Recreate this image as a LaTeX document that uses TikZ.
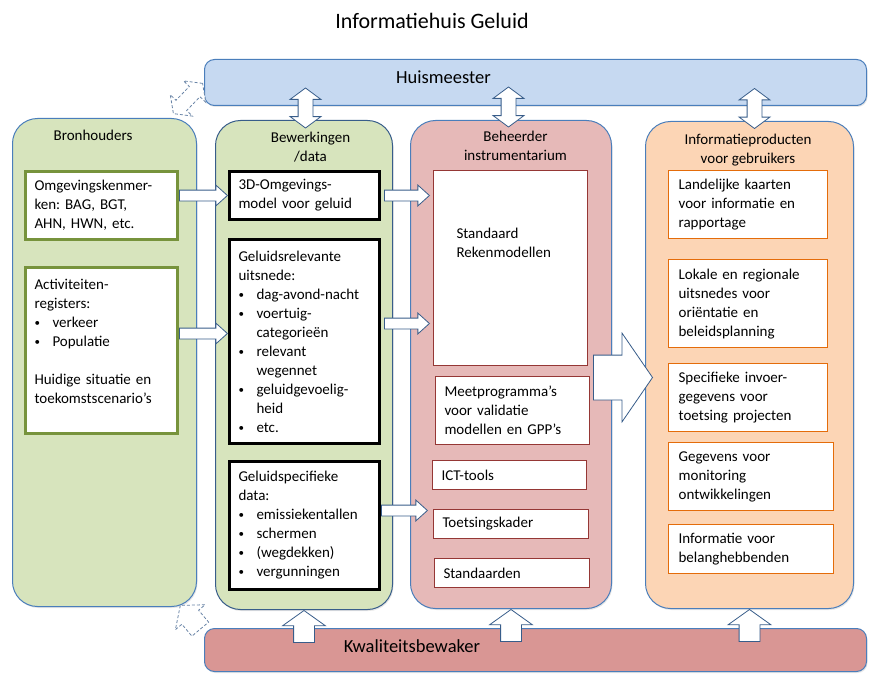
\documentclass[tikz,border=0pt]{standalone}
\usepackage{fontspec}
\setmainfont{Carlito}
\usetikzlibrary{positioning,shapes.arrows,shadows}
\frenchspacing

\definecolor{groen}{HTML}{D7E4BD}
\definecolor{rose}{HTML}{E6B9B8}
\definecolor{perzik}{HTML}{FCD5B5}
\definecolor{lichtblauw}{HTML}{C6D9F1}
\definecolor{oudrood}{HTML}{D99694}
\definecolor{rand}{HTML}{4A7EBB}
\definecolor{donkerrand}{HTML}{385D8A}
\definecolor{olijf}{HTML}{77933C}
\definecolor{steen}{HTML}{953735}
\definecolor{oranje}{HTML}{E46C0A}

\newcommand{\bul}{\makebox[18pt][l]{\raisebox{1pt}{\fontsize{11}{11}\selectfont\textbullet}}}

\tikzset{
  txt/.style={font=\fontsize{15}{19}\selectfont},
  schaduw/.style={drop shadow={opacity=.2, shadow xshift=1pt, shadow yshift=-1.5pt}},
  kolom/.style={draw=rand, line width=1pt, rounded corners=25pt, anchor=north west, schaduw},
  balk/.style={draw=rand, line width=1pt, rounded corners=10pt, anchor=north west,
    minimum width=662pt, schaduw},
  balktekst/.style={font=\fontsize{18.5}{22}\selectfont, inner sep=0pt},
  kop/.style={txt, inner sep=0pt, align=center},
  vak/.style={txt, anchor=north west, align=left, inner xsep=9pt, inner ysep=3pt, fill=white},
  groenvak/.style={vak, draw=olijf, line width=3pt},
  zwartvak/.style={vak, draw=black, line width=3pt},
  roodvak/.style={vak, draw=steen, line width=1pt},
  oranjevak/.style={vak, inner xsep=10pt, draw=oranje, line width=1.2pt},
  pijl/.style={single arrow, draw=donkerrand, fill=white, line width=.8pt,
    inner xsep=0pt, minimum width=0pt},
  klein/.style={pijl, inner ysep=5pt, single arrow head extend=5pt, single arrow tip angle=84},
  op/.style={pijl, rotate=90, inner ysep=10pt, single arrow head extend=11pt,
    single arrow tip angle=109, minimum height=32pt},
  grootpijl/.style={pijl, inner ysep=22pt, single arrow head extend=22pt,
    single arrow tip angle=111, minimum height=59pt},
  heen/.style={double arrow, draw=donkerrand, fill=white, line width=.8pt,
    inner xsep=0pt, minimum width=0pt, inner ysep=7pt, double arrow head extend=8pt,
    double arrow tip angle=107, minimum height=40pt},
  stippel/.style={draw=donkerrand!75, dash pattern=on 3pt off 2pt},
}

\begin{document}
\begin{tikzpicture}[x=1pt, y=-1pt]
\useasboundingbox (0,0) rectangle (882,679);

\node[font=\fontsize{22}{26}\selectfont] (titel) at (432,21) {Informatiehuis Geluid};

% kolommen
\node[kolom, fill=groen, minimum width=184pt, minimum height=488pt] (bron) at (12,118) {};
\node[kolom, fill=groen, draw=donkerrand, minimum width=177pt, minimum height=489pt] (bew) at (215,120) {};
\node[kolom, fill=rose, minimum width=201pt, minimum height=488pt] (beh) at (410,120) {};
\node[kolom, fill=perzik, minimum width=208pt, minimum height=487pt] (info) at (645,121) {};

\node[kop, below=12pt of bron.north, xshift=-11.5pt] (bronT) {Bronhouders};
\node[kop, below=11.5pt of bew.north, xshift=6.5pt] (bewT) {Bewerkingen\\/data};
\node[kop, below=10.5pt of beh.north, xshift=4.5pt] (behT) {Beheerder\\instrumentarium};
\node[kop, below=12.5pt of info.north, xshift=-1.5pt] (infoT) {Informatieproducten\\voor gebruikers};

% balken
\node[balk, fill=lichtblauw, minimum height=46pt] (huis) at (204,59) {};
\node[balk, fill=oudrood, minimum height=43pt] (kwal) at (204,628) {};
\node[balktekst] (huisT) at ([xshift=-92pt, yshift=5pt]huis.center) {Huismeester};
\node[balktekst] (kwalT) at ([xshift=-123.5pt, yshift=4pt]kwal.center) {Kwaliteitsbewaker};

% bronhouders
\node[groenvak, text width=134pt, minimum height=68pt] (omg) at (24,170)
  {Omgevingskenmer-\\ken: BAG, BGT,\\AHN, HWN, etc.};
\node[groenvak, text width=134pt, minimum height=166pt] (act) at (24,266)
  {Activiteiten-\\registers:\\\bul verkeer\\\bul Populatie\\[19pt]Huidige situatie en\\toekomstscenario’s\\~};

% bewerkingen
\node[zwartvak, text width=132pt, minimum height=48pt] (model) at (228,170)
  {3D-Omgevings-\\model voor geluid};
\node[zwartvak, text width=132pt, minimum height=204pt] (rel) at (228,238)
  {Geluidsrelevante\\uitsnede:\\\bul dag-avond-nacht\\\bul voertuig-\\\hspace*{18pt}categorieën\\
   \bul relevant\\\hspace*{18pt}wegennet\\\bul geluidgevoelig-\\\hspace*{18pt}heid\\\bul etc.};
\node[zwartvak, text width=132pt, minimum height=128pt] (spec) at (228,460)
  {Geluidspecifieke\\data:\\\bul emissiekentallen\\\bul schermen\\\bul (wegdekken)\\\bul vergunningen};

% instrumentarium
\node[roodvak, inner xsep=23pt, text width=108pt, minimum height=195pt] (rek) at (433,170)
  {Standaard\\Rekenmodellen\\[31pt]~};
\node[roodvak, text width=136pt, minimum height=68pt] (meet) at (435,376)
  {Meetprogramma’s\\voor validatie\\modellen en GPP’s};
\node[roodvak, text width=136pt, minimum height=29pt] (ict) at (432,460) {ICT-tools};
\node[roodvak, text width=137pt, minimum height=29pt] (toets) at (433,509) {Toetsingskader};
\node[roodvak, text width=137pt, minimum height=29pt] (stand) at (434,558) {Standaarden};

% informatieproducten
\node[oranjevak, text width=139pt, minimum height=68pt] (land) at (668,170)
  {Landelijke kaarten\\voor informatie en\\rapportage};
\node[oranjevak, text width=139pt, minimum height=88pt] (lok) at (668,259)
  {Lokale en regionale\\uitsnedes voor\\oriëntatie en\\beleidsplanning};
\node[oranjevak, text width=139pt, minimum height=68pt] (invoer) at (668,363)
  {Specifieke invoer-\\gegevens voor\\toetsing projecten};
\node[oranjevak, text width=145pt, minimum height=68pt] (geg) at (668,442)
  {Gegevens voor\\monitoring\\ontwikkelingen};
\node[oranjevak, text width=145pt, minimum height=49pt] (belang) at (668,524)
  {Informatie voor\\belanghebbenden};

% pijlen
\node[klein, minimum height=48pt, anchor=tip] (p1) at (model.west) {};
\node[klein, minimum height=48pt, anchor=tip] (p2) at ([yshift=8pt]rel.west) {};
\node[klein, minimum height=45pt, anchor=tail] (p3) at ([xshift=3pt]model.east) {};
\node[klein, minimum height=45pt, anchor=tail] (p4) at ([xshift=3pt, yshift=18pt]rel.east) {};
\node[klein, minimum height=46pt, anchor=tail] (p5) at ([yshift=15pt]spec.east) {};
\node[grootpijl, anchor=tip] (p6) at ([xshift=8pt, yshift=-12.5pt]info.west) {};

\node[heen, rotate=90] (h1) at ([xshift=1.5pt, yshift=-2pt]bew.north |- huis.south) {};
\node[heen, rotate=90] (h2) at ([xshift=-2.5pt, yshift=-1pt]beh.north |- huis.south) {};
\node[heen, rotate=90] (h3) at ([xshift=5pt, yshift=-2.5pt]info.north |- huis.south) {};

\node[op, anchor=tip] (k1) at (bew.south) {};
\node[op, anchor=tip] (k2) at (beh.south) {};
\node[op, anchor=tip] (k3) at (info.south) {};

\node[heen, stippel, rotate=46, minimum height=42pt] (d1) at ([xshift=-16pt, yshift=-16pt]huis.west) {};
\node[pijl, stippel, rotate=130, anchor=tip, inner ysep=10.5pt, single arrow head extend=8.5pt,
  single arrow tip angle=103, minimum height=31pt] (d2) at ([xshift=-24pt, yshift=23pt]kwal.north west) {};

\end{tikzpicture}
\end{document}
